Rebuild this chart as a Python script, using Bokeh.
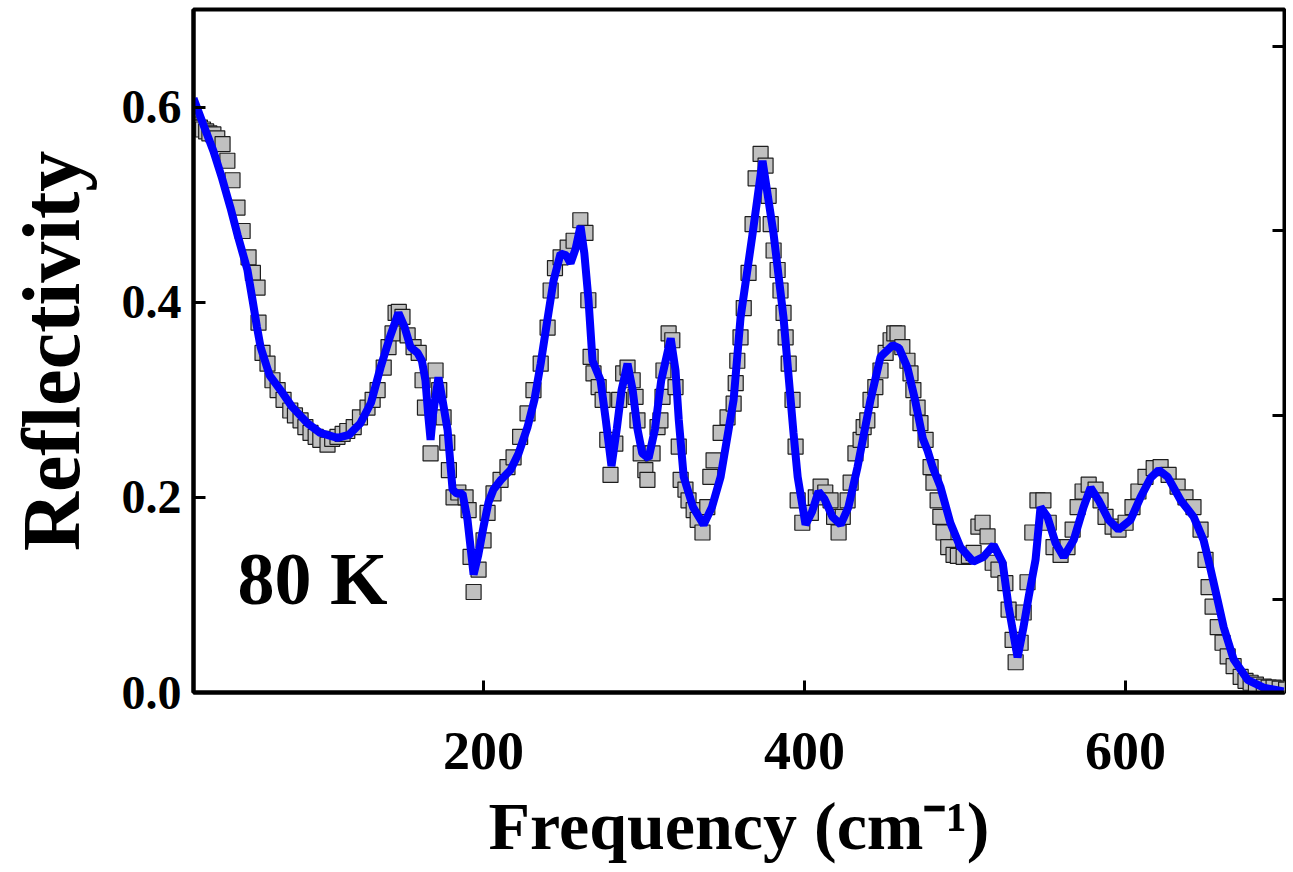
from bokeh.plotting import figure
from bokeh.models import FixedTicker, LinearAxis, Label, Range1d, NumeralTickFormatter
from bokeh.embed import file_html
from bokeh.resources import INLINE

# measured reflectivity (grey squares)
freq_data = [20.0, 21.3, 23.3, 25.2, 27.2, 29.2, 31.7, 34.1, 37.4, 40.4, 43.6, 46.7, 49.9, 53.6, 56.3,
             59.2, 59.8, 62.3, 65.4, 68.5, 71.7, 75.4, 79.6, 82.5, 86.0, 89.0, 92.2, 95.4, 98.3, 102.8,
             105.7, 109.0, 112.2, 115.1, 119.1, 123.0, 127.7, 130.9, 134.0, 137.8, 140.8, 143.3, 145.2,
             147.2, 149.5, 152.7, 156.4, 159.6, 162.0, 163.5, 167.0, 170.1, 172.4, 175.1, 177.4, 178.4,
             181.3, 184.3, 188.8, 190.7, 191.9, 193.8, 196.9, 200.0, 202.5, 206.2, 210.6, 214.9, 218.7,
             222.8, 227.4, 231.1, 235.6, 239.9, 241.8, 244.5, 248.0, 252.4, 256.1, 260.3, 263.5, 265.3,
             266.7, 268.5, 271.7, 274.2, 277.1, 279.1, 282.1, 284.5, 287.0, 289.7, 292.9, 294.7, 295.9,
             297.9, 300.8, 302.1, 305.3, 308.4, 310.2, 311.5, 312.1, 315.3, 317.6, 319.6, 321.6, 322.8,
             325.8, 327.7, 330.9, 333.4, 336.4, 339.4, 341.3, 343.3, 347.7, 352.0, 355.8, 357.1, 358.1,
             360.1, 362.1, 365.1, 367.6, 369.5, 372.6, 375.7, 377.6, 378.9, 380.7, 383.2, 385.0, 386.9,
             388.2, 390.1, 392.5, 394.4, 395.7, 398.6, 403.9, 407.0, 410.0, 412.9, 416.2, 418.4, 421.2,
             423.8, 426.8, 428.7, 431.7, 434.9, 436.8, 439.1, 441.1, 444.1, 447.3, 450.5, 453.6, 455.9,
             457.9, 460.9, 464.1, 466.0, 467.8, 470.4, 472.2, 475.4, 478.5, 480.3, 482.9, 484.6, 486.6,
             489.5, 492.8, 495.5, 499.1, 502.4, 505.3, 508.3, 510.9, 514.0, 517.2, 520.8, 525.1, 527.1,
             529.6, 531.5, 534.6, 536.5, 538.9, 541.9, 545.1, 548.8, 552.1, 555.1, 559.5, 563.8, 567.0,
             570.1, 573.2, 577.0, 581.3, 584.4, 587.5, 591.9, 595.6, 600.0, 604.3, 608.0, 612.4, 617.5,
             621.8, 626.8, 632.4, 637.3, 642.3, 646.7, 649.8, 651.7, 654.2, 657.4, 660.4, 663.6, 667.3,
             671.7, 674.7, 677.9, 681.2, 686.1, 689.1, 692.2, 696.0, 700.0]
refl_data = [0.582, 0.580, 0.579, 0.577, 0.575, 0.573, 0.572, 0.568, 0.562, 0.545, 0.525, 0.497, 0.473,
             0.446, 0.430, 0.415, 0.379, 0.348, 0.337, 0.320, 0.310, 0.300, 0.289, 0.284, 0.279, 0.272,
             0.266, 0.262, 0.259, 0.254, 0.260, 0.262, 0.265, 0.268, 0.272, 0.282, 0.292, 0.300, 0.310,
             0.333, 0.354, 0.368, 0.389, 0.390, 0.385, 0.366, 0.354, 0.348, 0.320, 0.292, 0.245, 0.330,
             0.310, 0.282, 0.256, 0.228, 0.200, 0.205, 0.200, 0.187, 0.139, 0.103, 0.126, 0.156, 0.184,
             0.204, 0.218, 0.231, 0.241, 0.262, 0.286, 0.310, 0.337, 0.374, 0.412, 0.435, 0.446, 0.456,
             0.463, 0.484, 0.471, 0.402, 0.344, 0.327, 0.313, 0.300, 0.259, 0.223, 0.255, 0.300, 0.327,
             0.333, 0.320, 0.303, 0.279, 0.245, 0.228, 0.218, 0.245, 0.272, 0.279, 0.303, 0.330, 0.368,
             0.361, 0.313, 0.252, 0.218, 0.208, 0.197, 0.187, 0.177, 0.164, 0.190, 0.221, 0.238, 0.266,
             0.282, 0.296, 0.317, 0.340, 0.364, 0.394, 0.430, 0.480, 0.527, 0.552, 0.540, 0.509, 0.480,
             0.453, 0.433, 0.412, 0.389, 0.364, 0.337, 0.300, 0.252, 0.197, 0.174, 0.184, 0.200, 0.211,
             0.205, 0.197, 0.180, 0.164, 0.180, 0.197, 0.215, 0.245, 0.259, 0.272, 0.279, 0.300, 0.313,
             0.330, 0.348, 0.361, 0.368, 0.368, 0.354, 0.340, 0.327, 0.310, 0.292, 0.276, 0.259, 0.231,
             0.215, 0.197, 0.180, 0.164, 0.149, 0.141, 0.140, 0.139, 0.140, 0.143, 0.170, 0.174, 0.160,
             0.133, 0.126, 0.112, 0.085, 0.054, 0.031, 0.051, 0.082, 0.113, 0.164, 0.197, 0.197, 0.174,
             0.149, 0.141, 0.149, 0.167, 0.190, 0.206, 0.213, 0.208, 0.197, 0.180, 0.170, 0.167, 0.174,
             0.190, 0.206, 0.221, 0.230, 0.231, 0.223, 0.211, 0.200, 0.190, 0.167, 0.136, 0.108, 0.088,
             0.067, 0.051, 0.037, 0.027, 0.016, 0.012, 0.010, 0.008, 0.006, 0.005, 0.005, 0.004, 0.003]

# fitted reflectivity (blue line)
freq_fit = [19.3, 25.2, 31.7, 37.1, 42.3, 46.9, 52.9, 56.1, 58.8, 61.1, 66.7, 73.5, 80.6, 90.3, 98.3,
            109.0, 116.1, 123.3, 129.9, 135.8, 141.8, 147.0, 150.7, 154.5, 158.9, 161.6, 163.8, 165.5,
            167.0, 168.5, 171.9, 174.4, 177.6, 180.7, 183.3, 186.9, 190.0, 193.8, 196.6, 200.0, 203.1,
            206.2, 210.9, 216.8, 221.8, 227.4, 231.7, 235.6, 239.6, 243.6, 248.0, 251.5, 254.2, 257.4,
            260.4, 262.8, 265.4, 267.9, 272.9, 276.1, 279.7, 283.0, 286.0, 289.7, 292.9, 295.9, 298.9,
            302.8, 306.8, 310.7, 316.6, 319.6, 321.6, 324.7, 330.5, 337.1, 342.3, 347.7, 355.8, 360.1,
            367.6, 373.8, 380.7, 386.9, 393.1, 395.7, 400.6, 404.6, 408.7, 412.5, 417.4, 422.5, 427.3,
            433.0, 441.1, 447.3, 454.9, 458.9, 464.1, 468.8, 473.7, 476.6, 480.0, 484.6, 490.8, 497.0,
            505.1, 511.5, 517.8, 523.4, 527.1, 532.7, 536.4, 539.6, 543.9, 547.0, 551.3, 556.4, 561.4,
            567.6, 573.8, 578.2, 583.2, 589.4, 595.6, 603.1, 609.3, 615.6, 620.6, 626.2, 634.3, 642.4,
            648.6, 653.0, 657.3, 661.1, 667.3, 676.0, 686.0, 698.4]
refl_fit = [0.609, 0.583, 0.555, 0.527, 0.497, 0.468, 0.433, 0.402, 0.375, 0.354, 0.325, 0.310, 0.293,
            0.276, 0.266, 0.261, 0.264, 0.276, 0.297, 0.333, 0.365, 0.389, 0.375, 0.354, 0.348, 0.340,
            0.320, 0.285, 0.259, 0.285, 0.323, 0.300, 0.269, 0.208, 0.204, 0.204, 0.177, 0.121, 0.140,
            0.170, 0.195, 0.208, 0.218, 0.228, 0.245, 0.272, 0.300, 0.337, 0.380, 0.422, 0.450, 0.448,
            0.440, 0.455, 0.478, 0.450, 0.402, 0.340, 0.320, 0.280, 0.232, 0.270, 0.310, 0.337, 0.310,
            0.270, 0.245, 0.240, 0.270, 0.320, 0.363, 0.330, 0.280, 0.221, 0.190, 0.172, 0.190, 0.221,
            0.300, 0.384, 0.470, 0.545, 0.470, 0.384, 0.266, 0.221, 0.172, 0.185, 0.206, 0.198, 0.180,
            0.172, 0.190, 0.231, 0.300, 0.344, 0.356, 0.353, 0.333, 0.300, 0.260, 0.248, 0.230, 0.211,
            0.174, 0.149, 0.134, 0.139, 0.151, 0.133, 0.088, 0.036, 0.067, 0.098, 0.136, 0.190, 0.180,
            0.153, 0.139, 0.156, 0.190, 0.210, 0.197, 0.177, 0.167, 0.177, 0.200, 0.220, 0.228, 0.221,
            0.197, 0.180, 0.156, 0.126, 0.095, 0.067, 0.034, 0.013, 0.005, 0.001]

x_ticks = [200, 400, 600]
y_ticks = [0.0, 0.2, 0.4, 0.6]
right_ticks = [0.095, 0.284, 0.473, 0.662]

FONT = "Liberation Serif"

p = figure(width=1286, height=868, output_backend="svg", toolbar_location=None,
           x_range=Range1d(19.3, 699.0), y_range=Range1d(0.0, 0.7),
           min_border_left=193, min_border_right=2, min_border_top=9, min_border_bottom=176)
p.grid.visible = False
p.outline_line_color = "black"
p.outline_line_width = 4
p.background_fill_color = "white"
p.border_fill_color = "white"

p.scatter(x=freq_data, y=refl_data, marker="square", size=15,
          fill_color="#c0c0c0", line_color="#1e1e1e", line_width=1.2)
p.line(x=freq_fit, y=refl_fit, line_color="#0000ff", line_width=8)

# bottom axis
xa = p.xaxis[0]
xa.ticker = FixedTicker(ticks=x_ticks)
xa.axis_line_width = 4
xa.axis_line_color = "black"
xa.major_tick_in = 12
xa.major_tick_out = 0
xa.major_tick_line_width = 3
xa.major_tick_line_color = "black"
xa.minor_tick_line_color = None
xa.major_label_standoff = 40
xa.major_label_text_font = FONT
xa.major_label_text_font_style = "bold"
xa.major_label_text_font_size = "54px"
xa.major_label_text_color = "black"
xa.axis_label = "Frequency (cm\u207b\u00b9)"
xa.axis_label_text_font = FONT
xa.axis_label_text_font_style = "bold"
xa.axis_label_text_font_size = "68px"
xa.axis_label_text_color = "black"
xa.axis_label_standoff = 16

# left axis
ya = p.yaxis[0]
ya.ticker = FixedTicker(ticks=y_ticks)
ya.formatter = NumeralTickFormatter(format="0.0")
ya.axis_line_width = 4
ya.axis_line_color = "black"
ya.major_tick_in = 12
ya.major_tick_out = 0
ya.major_tick_line_width = 3
ya.major_tick_line_color = "black"
ya.minor_tick_line_color = None
ya.major_label_standoff = 12
ya.major_label_text_font = FONT
ya.major_label_text_font_style = "bold"
ya.major_label_text_font_size = "48px"
ya.major_label_text_color = "black"
ya.axis_label = "Reflectivity"
ya.axis_label_text_font = FONT
ya.axis_label_text_font_style = "bold"
ya.axis_label_text_font_size = "82px"
ya.axis_label_text_color = "black"
ya.axis_label_standoff = 22

# right axis: inward ticks only
ra = LinearAxis(ticker=FixedTicker(ticks=right_ticks), axis_line_color=None,
                major_tick_in=12, major_tick_out=0, major_tick_line_width=3,
                major_tick_line_color="black",
                minor_tick_line_color=None, major_label_text_font_size="0px",
                major_label_standoff=0, major_label_text_color=None)
p.add_layout(ra, "right")

p.add_layout(Label(x=46.7, y=0.116, text="80 K", text_font=FONT, text_font_style="bold",
                   text_font_size="74px", text_color="black", text_baseline="alphabetic"))

open("out.html", "w").write(file_html(p, INLINE))
